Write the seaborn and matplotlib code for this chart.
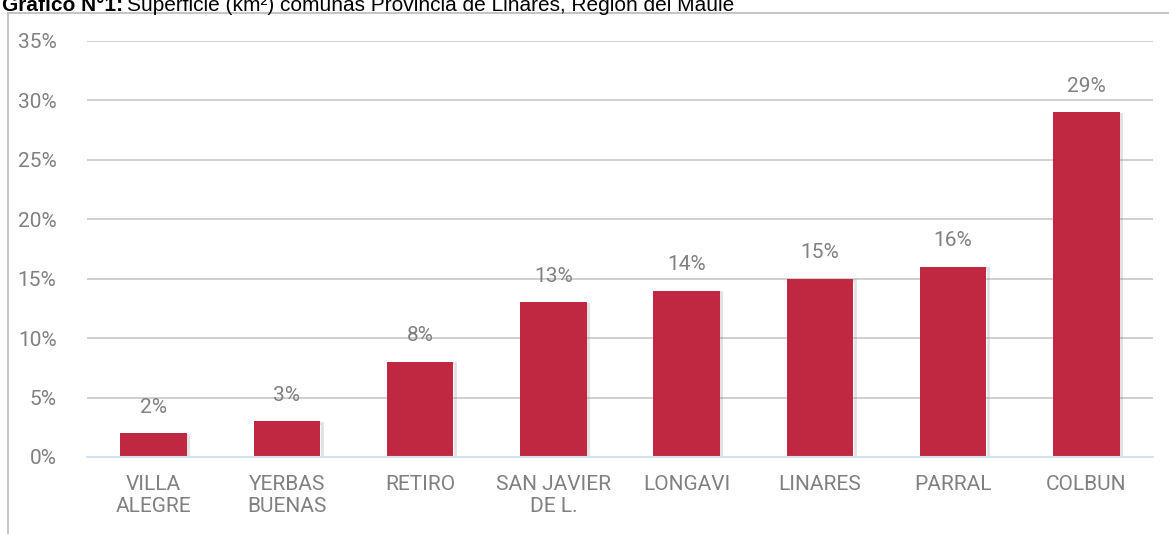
import matplotlib
matplotlib.use("Agg")
import matplotlib.pyplot as plt
import seaborn as sns
import pandas as pd
from matplotlib.lines import Line2D
from matplotlib.ticker import FuncFormatter
import matplotlib.patheffects as pe

categories = ["VILLA\nALEGRE", "YERBAS\nBUENAS", "RETIRO", "SAN JAVIER\nDE L.", "LONGAVI", "LINARES", "PARRAL", "COLBUN"]
values = [2, 3, 8, 13, 14, 15, 16, 29]
labels = ["2%", "3%", "8%", "13%", "14%", "15%", "16%", "29%"]
yticks = [0, 5, 10, 15, 20, 25, 30, 35]

sns.set_theme(style="white")
plt.rcParams['font.family'] = ['Roboto', 'DejaVu Sans']

df = pd.DataFrame({"comuna": categories, "pct": values})

fig = plt.figure(figsize=(11.69, 5.34), dpi=100)
ax = fig.add_axes([87/1169, 1-457/534, (1153-87)/1169, (457-41)/534])

sns.barplot(data=df, x="comuna", y="pct", color="#BF2840", width=0.5, ax=ax,
            saturation=1, edgecolor="none")
for p in ax.patches:
    p.set_path_effects([pe.SimpleLineShadow(offset=(1, -1), shadow_color="#888888", alpha=0.25, linewidth=2), pe.Normal()])

ax.set_ylim(0, 35)
ax.set_yticks(yticks)
ax.yaxis.set_major_formatter(FuncFormatter(lambda v, p: f"{int(v)}%"))
ax.grid(axis="y", color="#C8C8C8", linewidth=1.2)
ax.set_axisbelow(True)
for s in ["top", "right", "left"]:
    ax.spines[s].set_visible(False)
ax.spines["bottom"].set_color("#D5E1F0")
ax.spines["bottom"].set_linewidth(1.5)
ax.tick_params(axis="both", length=0, labelsize=15, colors="#808080")
ax.tick_params(axis="y", pad=22)
ax.tick_params(axis="x", pad=13)
for t in ax.get_xticklabels():
    t.set_linespacing(1.2)
ax.set_xlabel("")
ax.set_ylabel("")

ax.bar_label(ax.containers[0], labels=labels, padding=12, fontsize=15, color="#808080")

# frame
fig.add_artist(Line2D([8/1169, 1.0], [1-13/534, 1-13/534], transform=fig.transFigure, color="#BFBFBF", linewidth=1.3))
fig.add_artist(Line2D([8/1169, 8/1169], [0, 1-13/534], transform=fig.transFigure, color="#BFBFBF", linewidth=1.3))

# title
tfam = ['Liberation Sans', 'DejaVu Sans']
t1 = fig.text(2/1169, 1-11/534, "Gráfico N°1:", fontsize=15, fontweight="bold", color="#000000",
              va="baseline", ha="left", family=tfam)
fig.canvas.draw()
bb = t1.get_window_extent()
x2 = (bb.x1 + 4) / fig.bbox.width
fig.text(x2, 1-11/534, "Superficie (km²) comunas Provincia de Linares, Región del Maule", fontsize=15,
         color="#000000", va="baseline", ha="left", family=tfam)

fig.savefig("out.png", dpi=100)
